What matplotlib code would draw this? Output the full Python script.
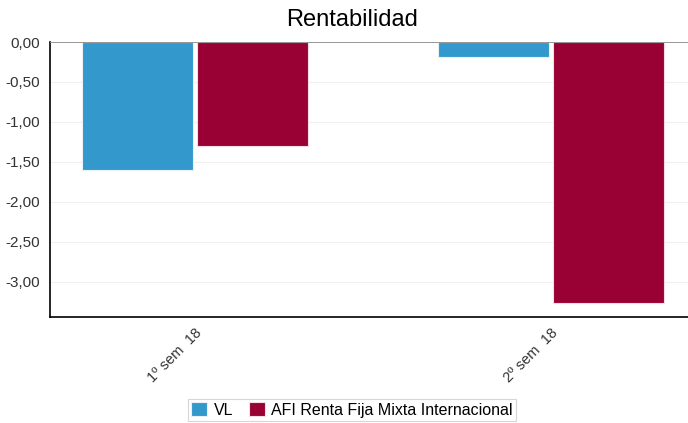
import numpy as np
import matplotlib.pyplot as plt

plt.rcParams['font.family'] = ['Liberation Sans', 'DejaVu Sans']

categories = ['1º sem  18', '2º sem  18']
series_names = ['VL', 'AFI Renta Fija Mixta Internacional']
vl = [-1.60, -0.19]
afi = [-1.30, -3.26]
yticks = [0, -0.5, -1.0, -1.5, -2.0, -2.5, -3.0]
colors = ['#3399cc', '#990033']

fig = plt.figure(figsize=(6.88, 4.23), dpi=100)
ax = fig.add_axes([50/688, 1 - 317/423, 638/688, 275/423])

x = np.arange(len(categories))
w = 0.312
ax.bar(x - w/2 - 0.006, vl, w, color=colors[0], edgecolor='#e6f2f8', linewidth=0.8, label=series_names[0], zorder=3)
ax.bar(x + w/2 + 0.006, afi, w, color=colors[1], edgecolor='#f5dbe4', linewidth=0.8, label=series_names[1], zorder=3)

ax.set_xlim(-0.407, 1.385)
ax.set_ylim(-3.44, 0)
ax.set_yticks(yticks)
ax.set_yticklabels([('%.2f' % v).replace('.', ',') for v in yticks])
ax.grid(axis='y', color='#f0f0f0', linewidth=0.8, zorder=0)
ax.axhline(0, color='#888888', linewidth=1.2, zorder=4)

ax.set_xticks(x)
ax.set_xticklabels(categories, rotation=45, ha='right', rotation_mode='anchor', fontsize=10.5, color='#333333')
ax.tick_params(axis='x', length=0, pad=6)
ax.tick_params(axis='y', length=0, labelsize=11, colors='#333333', pad=7)

ax.spines['top'].set_visible(False)
ax.spines['right'].set_visible(False)
ax.spines['left'].set_color('black')
ax.spines['bottom'].set_color('black')
ax.spines['left'].set_linewidth(1.2)
ax.spines['bottom'].set_linewidth(1.2)

fig.text(352/688, 1 - 20/423, 'Rentabilidad', ha='center', va='center', fontsize=17)

leg = fig.legend(loc='upper center', bbox_to_anchor=(352/688, 1 - 399/423), ncol=2,
                 frameon=True, fancybox=False, fontsize=11.5, handlelength=1.0, handleheight=1.0,
                 handletextpad=0.4, columnspacing=1.0, borderpad=0.2, borderaxespad=0)
leg.get_frame().set_edgecolor('#cccccc')
leg.get_frame().set_linewidth(0.8)

fig.savefig('out.png', dpi=100)
